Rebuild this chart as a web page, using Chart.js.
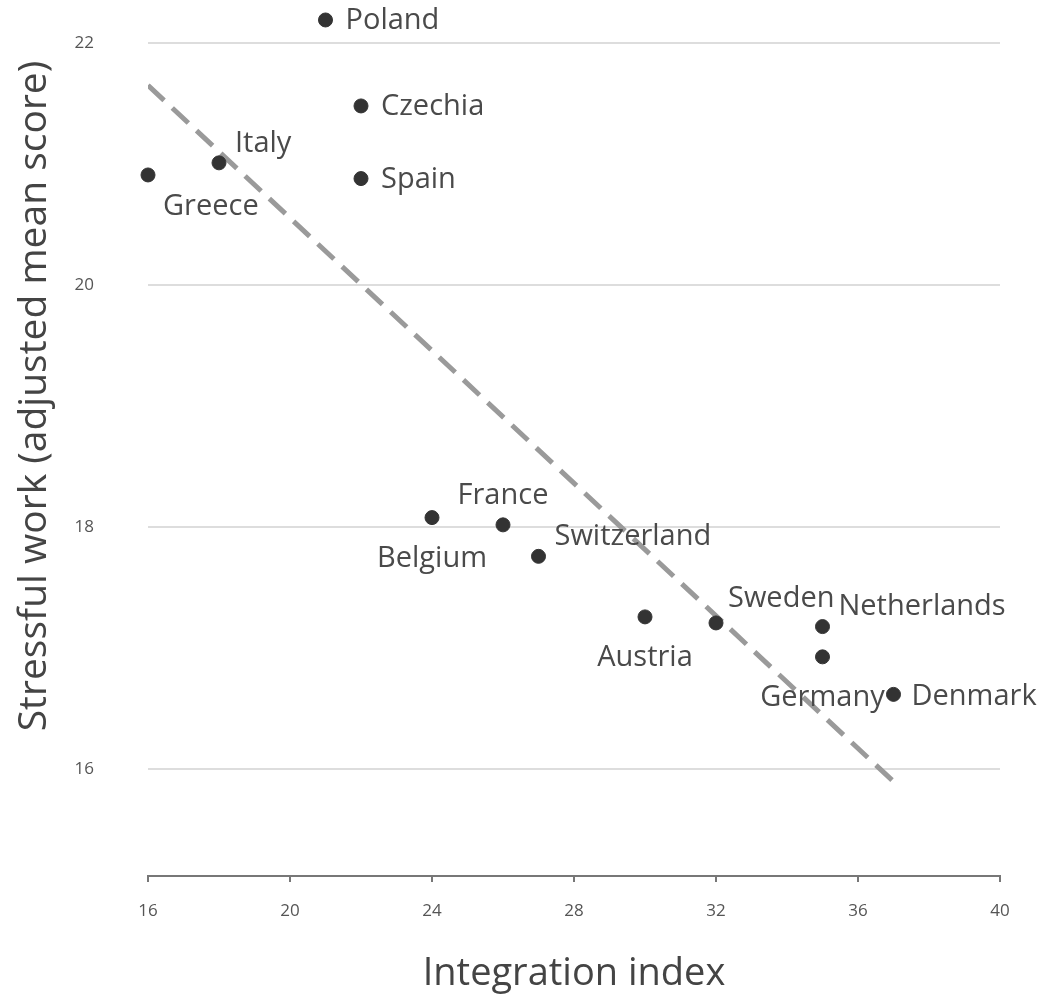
<!DOCTYPE html>
<html>
<head>
<meta charset="utf-8">
<script src="https://cdn.jsdelivr.net/npm/chart.js@4/dist/chart.umd.min.js"></script>
<style>
  html, body { margin: 0; padding: 0; background: #fff; }
  #wrap { width: 1041px; height: 999px; }
</style>
</head>
<body>
<div id="wrap"><canvas id="c" width="1041" height="999"></canvas></div>
<script>
const countries = ["Poland","Czechia","Italy","Greece","Spain","Belgium","France","Switzerland","Austria","Sweden","Netherlands","Germany","Denmark"];
const integrationIndex = [21, 22, 18, 16, 22, 24, 26, 27, 30, 32, 35, 35, 37];
const stressfulWork = [22.19, 21.48, 21.01, 20.91, 20.88, 18.08, 18.02, 17.76, 17.26, 17.21, 17.18, 16.93, 16.62];
const trendX = [16, 37];
const trendY = [21.65, 15.9];
const xTicks = [16, 20, 24, 28, 32, 36, 40];
const yTicks = [16, 18, 20, 22];
const xTitle = 'Integration index';
const yTitle = 'Stressful work (adjusted mean score)';

// label offsets (pixels) and alignment, per country
const labelPlacement = {
  Poland:      { dx: 20, dy: 1,   align: 'left' },
  Czechia:     { dx: 20, dy: 1,   align: 'left' },
  Italy:       { dx: 16, dy: -19, align: 'left' },
  Greece:      { dx: 15, dy: 32,  align: 'left' },
  Spain:       { dx: 20, dy: 1,   align: 'left' },
  Belgium:     { dx: 0,  dy: 41,  align: 'center' },
  France:      { dx: 0,  dy: -29, align: 'center' },
  Switzerland: { dx: 16, dy: -20, align: 'left' },
  Austria:     { dx: 0,  dy: 41,  align: 'center' },
  Sweden:      { dx: 12, dy: -24, align: 'left' },
  Netherlands: { dx: 16, dy: -20, align: 'left' },
  Germany:     { dx: 0,  dy: 41,  align: 'center' },
  Denmark:     { dx: 18, dy: 2,   align: 'left' }
};

const points = countries.map((c, i) => ({ x: integrationIndex[i], y: stressfulWork[i] }));
const trend = trendX.map((x, i) => ({ x: x, y: trendY[i] }));

const labelPlugin = {
  id: 'pointLabels',
  afterDatasetsDraw(chart) {
    const ctx = chart.ctx;
    const meta = chart.getDatasetMeta(1);
    ctx.save();
    ctx.font = '29px "Open Sans"';
    ctx.fillStyle = '#4a4a4a';
    ctx.textBaseline = 'middle';
    meta.data.forEach((el, i) => {
      const name = countries[i];
      const p = labelPlacement[name];
      ctx.textAlign = p.align;
      ctx.fillText(name, el.x + p.dx, el.y + p.dy);
    });
    // y-axis title
    ctx.translate(35, 396);
    ctx.rotate(-Math.PI / 2);
    ctx.font = '39px "Open Sans"';
    ctx.fillStyle = '#444';
    ctx.textAlign = 'center';
    ctx.fillText(yTitle, 0, 0);
    ctx.restore();
  }
};

new Chart(document.getElementById('c'), {
  type: 'scatter',
  data: {
    datasets: [
      {
        type: 'line',
        data: trend,
        borderColor: '#9a9a9a',
        borderWidth: 5,
        borderDash: [22, 11.2],
        pointRadius: 0,
        fill: false,
        order: 2
      },
      {
        data: points,
        backgroundColor: '#333333',
        borderColor: '#333333',
        pointRadius: 7,
        pointHoverRadius: 7,
        clip: false,
        order: 1
      }
    ]
  },
  options: {
    responsive: false,
    animation: false,
    events: [],
    layout: { autoPadding: false, padding: { left: 0, right: 41, top: 0, bottom: 0 } },
    plugins: { legend: { display: false }, tooltip: { enabled: false } },
    scales: {
      x: {
        type: 'linear',
        min: 16, max: 40,
        afterBuildTicks: (s) => { s.ticks = xTicks.map(v => ({ value: v })); },
        afterFit: (s) => { s.height = 123; s.paddingLeft = 0; s.paddingRight = 0; },
        grid: { drawOnChartArea: false, drawTicks: true, tickLength: 6, color: '#777', lineWidth: 2 },
        border: { display: true, color: '#777', width: 2 },
        ticks: { color: '#555', font: { family: 'Open Sans', size: 17 }, padding: 19, maxRotation: 0 },
        title: { display: true, text: xTitle, color: '#444', font: { family: 'Open Sans', size: 38 }, padding: { top: 8, bottom: 2 } }
      },
      y: {
        type: 'linear',
        min: 15.12, max: 22.355,
        afterBuildTicks: (s) => { s.ticks = yTicks.map(v => ({ value: v })); },
        afterFit: (s) => { s.width = 148; s.paddingTop = 0; s.paddingBottom = 0; },
        grid: { drawTicks: false, color: '#dddddd', lineWidth: 2 },
        border: { display: false },
        ticks: { color: '#555', font: { family: 'Open Sans', size: 17 }, padding: 54 },
        title: { display: false }
      }
    }
  },
  plugins: [labelPlugin]
});
</script>
</body>
</html>
